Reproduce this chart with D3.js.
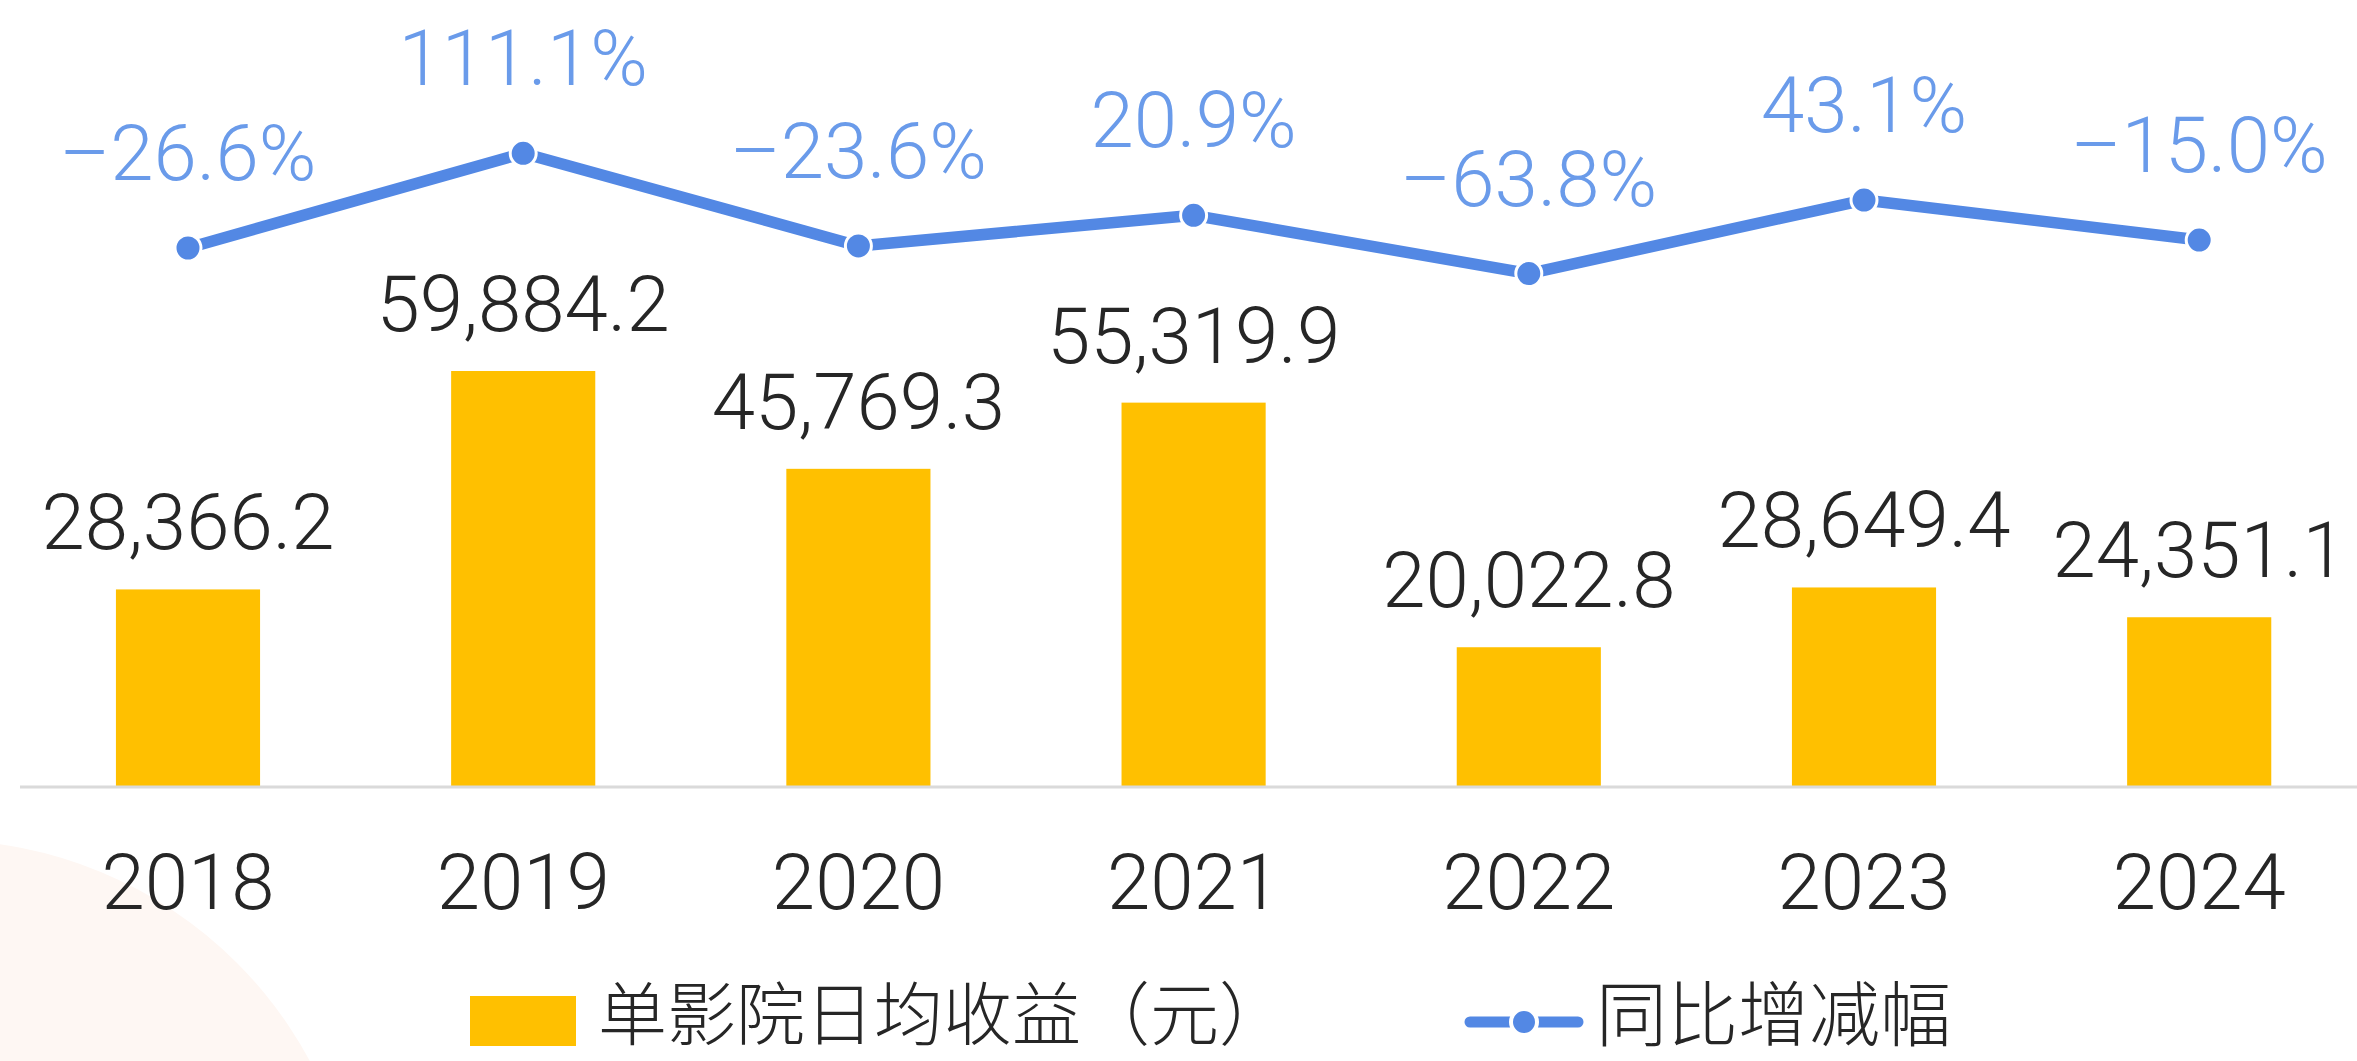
<!DOCTYPE html>
<html>
<head>
<meta charset="utf-8">
<script src="https://cdn.jsdelivr.net/npm/d3@7"></script>
<style>
  html, body { margin: 0; padding: 0; background: #fff; }
  svg { display: block; }
</style>
</head>
<body>
<svg id="chart" width="2357" height="1061"></svg>
<script>
const years = ["2018", "2019", "2020", "2021", "2022", "2023", "2024"];
const revenue = [28366.2, 59884.2, 45769.3, 55319.9, 20022.8, 28649.4, 24351.1];
const growth = [-26.6, 111.1, -23.6, 20.9, -63.8, 43.1, -15.0];
const legendLabels = ["单影院日均收益（元）", "同比增减幅"];

const W = 2357, H = 1061;
const barColor = "#FFC000";
const lineColor = "#5388E4";
const lineLabelColor = "#6A9BEA";
const textColor = "#262626";
const latin = "Roboto, 'Liberation Sans', Arial, sans-serif";
const cjk = "'Noto Sans CJK SC', 'Liberation Sans', sans-serif";

const svg = d3.select("#chart");

// faint background decoration
svg.append("circle").attr("cx", -60).attr("cy", 1260).attr("r", 420)
  .attr("fill", "#FEF7F3");

const x = d3.scaleBand().domain(years).range([20.4, 2366.8])
  .paddingInner(0.57).paddingOuter(0.285);
const y = d3.scaleLinear().domain([0, 60000]).range([786, 370.2]);
const yp = d3.scaleLinear().domain([-100, 150]).range([298.5, 126.5]);

// bars
svg.append("g").selectAll("rect").data(years).join("rect")
  .attr("x", d => x(d))
  .attr("y", (d, i) => y(revenue[i]))
  .attr("width", x.bandwidth())
  .attr("height", (d, i) => y(0) - y(revenue[i]))
  .attr("fill", barColor);

// x axis
const xAxis = d3.axisBottom(x).tickSize(0).tickPadding(0);
const gx = svg.append("g").attr("transform", `translate(0,${y(0)})`).call(xAxis);
gx.select(".domain").remove();
gx.append("line").attr("x1", 20).attr("x2", W).attr("y1", 1).attr("y2", 1)
  .attr("stroke", "#DADADA").attr("stroke-width", 3);
gx.selectAll(".tick text")
  .attr("dy", null).attr("y", 123)
  .attr("font-family", latin).attr("font-size", 78).attr("font-weight", 300)
  .attr("fill", textColor);

// bar value labels
const fmt = d3.format(",.1f");
svg.append("g").selectAll("text").data(years).join("text")
  .attr("x", d => x(d) + x.bandwidth() / 2)
  .attr("y", (d, i) => y(revenue[i]) - 40)
  .attr("text-anchor", "middle")
  .attr("font-family", latin).attr("font-size", 78).attr("font-weight", 300)
  .attr("fill", textColor)
  .text((d, i) => fmt(revenue[i]));

// line
const cx = d => x(d) + x.bandwidth() / 2;
const line = d3.line().x((d, i) => cx(years[i])).y(d => yp(d));
svg.append("path").datum(growth)
  .attr("d", line).attr("fill", "none")
  .attr("stroke", lineColor).attr("stroke-width", 11.5)
  .attr("stroke-linejoin", "round");
svg.append("g").selectAll("circle").data(growth).join("circle")
  .attr("cx", (d, i) => cx(years[i])).attr("cy", d => yp(d))
  .attr("r", 13).attr("fill", lineColor)
  .attr("stroke", "#fff").attr("stroke-width", 3);

// line labels
const pfmt = v => (v < 0 ? "\u2013" + Math.abs(v).toFixed(1) : v.toFixed(1)) + "%";
svg.append("g").selectAll("text").data(growth).join("text")
  .attr("x", (d, i) => cx(years[i]))
  .attr("y", d => yp(d) - 68)
  .attr("text-anchor", "middle")
  .attr("font-family", latin).attr("font-size", 78).attr("font-weight", 300)
  .attr("fill", lineLabelColor)
  .text(d => pfmt(d));

// legend
const lg = svg.append("g");
lg.append("rect").attr("x", 470).attr("y", 996).attr("width", 106).attr("height", 50)
  .attr("fill", barColor);
lg.append("text").attr("x", 598).attr("y", 1040)
  .attr("font-family", cjk).attr("font-size", 69).attr("font-weight", 300)
  .attr("fill", textColor)
  .text(legendLabels[0]);
lg.append("line").attr("x1", 1470).attr("x2", 1578).attr("y1", 1022).attr("y2", 1022)
  .attr("stroke", lineColor).attr("stroke-width", 11).attr("stroke-linecap", "round");
lg.append("circle").attr("cx", 1524).attr("cy", 1022).attr("r", 13)
  .attr("fill", lineColor).attr("stroke", "#fff").attr("stroke-width", 4);
lg.append("text").attr("x", 1596).attr("y", 1040)
  .attr("font-family", cjk).attr("font-size", 71).attr("font-weight", 300)
  .attr("fill", textColor)
  .text(legendLabels[1]);
</script>
</body>
</html>
